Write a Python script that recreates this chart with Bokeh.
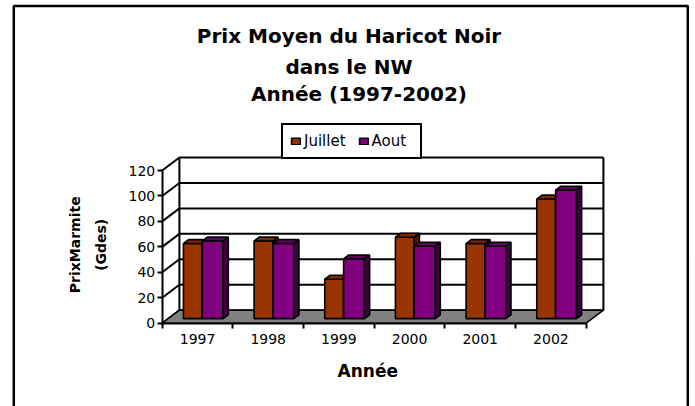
import numpy as np
from bokeh.plotting import figure
from bokeh.models import (Range1d, FixedTicker, LinearAxis, Label, BoxAnnotation,
                          Legend, LegendItem)
from bokeh.embed import file_html
from bokeh.resources import INLINE

# ---------------- data ----------------
years = ["1997", "1998", "1999", "2000", "2001", "2002"]
juillet = [59, 61, 31, 64, 59, 94]
aout = [61, 59, 47, 57, 57, 101]
y_ticks = [0, 20, 40, 60, 80, 100, 120]
series_names = ["Juillet", "Aout"]
title_lines = ["Prix Moyen du Haricot Noir", "dans le NW", "Année (1997-2002)"]
y_title_lines = ["PrixMarmite", "(Gdes)"]
x_title = "Année"

# ---------------- layout constants ----------------
W, H = 695, 406
AX_X = 161.7        # canvas px of the front y axis
AX_Y = 322.7        # canvas px of the front x axis
SX = 70.67          # px per category
SY = 1.2725         # px per price unit
n = len(years)
YMAX = y_ticks[-1]
DX = 17.2 / SX      # wall depth (x units)
DY = 13.0 / SY      # wall depth (y units)
F0, F1 = 0.35, 0.65 # bar depth position inside the wall depth
J_L, MID, A_R = 0.215, 0.482, 0.777

FONT = "DejaVu Sans"
J_COL = ("#993300", "#7a2900", "#4c1900")   # front, top, side
A_COL = ("#800080", "#620062", "#400040")


def px_x(cx):
    return (cx - AX_X) / SX


def px_y(cy):
    return (AX_Y - cy) / SY


p = figure(width=W, height=H, output_backend="svg", toolbar_location=None,
           x_range=Range1d(px_x(0), px_x(W)), y_range=Range1d(px_y(H), px_y(0)),
           min_border_left=0, min_border_right=0, min_border_top=0,
           min_border_bottom=0, x_axis_location=None, y_axis_location=None)
p.outline_line_color = None
p.background_fill_color = "white"
p.border_fill_color = "white"
p.grid.visible = False

# ---------------- axes ----------------
xaxis = LinearAxis(
    ticker=FixedTicker(ticks=[i + 0.5 for i in range(n)], minor_ticks=list(range(n + 1))),
    major_label_overrides={i + 0.5: y for i, y in enumerate(years)},
    bounds=(0, n), fixed_location=0)
xaxis.major_tick_in = 0
xaxis.major_tick_out = 0
xaxis.minor_tick_in = 0
xaxis.minor_tick_out = 5
xaxis.minor_tick_line_width = 2
xaxis.minor_tick_line_color = "black"
xaxis.major_label_standoff = 6
p.add_layout(xaxis, "below")

yaxis = LinearAxis(ticker=FixedTicker(ticks=y_ticks, minor_ticks=[]), bounds=(0, YMAX),
                   fixed_location=0)
yaxis.major_tick_in = 0
yaxis.major_tick_out = 5
yaxis.major_tick_line_width = 2
yaxis.major_label_standoff = 2
p.add_layout(yaxis, "left")

for ax in (xaxis, yaxis):
    ax.axis_line_width = 2
    ax.axis_line_color = "black"
    ax.major_tick_line_color = "black"
    ax.major_label_text_font = FONT
    ax.major_label_text_font_size = "14px"
    ax.major_label_text_color = "black"

# ---------------- walls & floor ----------------
p.segment(x0=[DX] * len(y_ticks), y0=[v + DY for v in y_ticks],
          x1=[n + DX] * len(y_ticks), y1=[v + DY for v in y_ticks],
          line_color="black", line_width=2)
p.segment(x0=[0] * len(y_ticks), y0=y_ticks,
          x1=[DX] * len(y_ticks), y1=[v + DY for v in y_ticks],
          line_color="black", line_width=2)
p.segment(x0=[DX, n + DX], y0=[DY, DY], x1=[DX, n + DX], y1=[YMAX + DY, YMAX + DY],
          line_color="black", line_width=2)
p.patch([0, n, n + DX, DX], [0, 0, DY, DY], fill_color="#808080",
        line_color="black", line_width=1.5)


# ---------------- bars ----------------
def faces(x0, x1, vals):
    fx, fy, tx, ty, sx, sy = [], [], [], [], [], []
    ddx, ddy = (F1 - F0) * DX, (F1 - F0) * DY
    for i, v in enumerate(vals):
        l, r = i + x0 + F0 * DX, i + x1 + F0 * DX
        b, t = F0 * DY, v + F0 * DY
        fx.append([l, r, r, l]); fy.append([b, b, t, t])
        tx.append([l, r, r + ddx, l + ddx]); ty.append([t, t, t + ddy, t + ddy])
        sx.append([r, r + ddx, r + ddx, r]); sy.append([b, b + ddy, t + ddy, t])
    return (fx, fy), (tx, ty), (sx, sy)


fronts = []
for (x0, x1, vals, cols) in [(J_L, MID, juillet, J_COL), (MID, A_R, aout, A_COL)]:
    fr, tp, sd = faces(x0, x1, vals)
    rf = p.patches(xs=fr[0], ys=fr[1], fill_color=cols[0], line_color="black", line_width=1.6)
    p.patches(xs=tp[0], ys=tp[1], fill_color=cols[1], line_color="black", line_width=1.6)
    p.patches(xs=sd[0], ys=sd[1], fill_color=cols[2], line_color="black", line_width=1.6)
    fronts.append(rf)

# ---------------- legend ----------------
legend = Legend(items=[LegendItem(label=series_names[0], renderers=[fronts[0]]),
                       LegendItem(label=series_names[1], renderers=[fronts[1]])],
                location=(281, H - 159), orientation="horizontal",
                glyph_width=11, glyph_height=8, label_standoff=3, spacing=12,
                padding=7, margin=0, label_height=18, label_width=41,
                label_text_font=FONT, label_text_font_size="15px",
                label_text_color="black",
                border_line_color="black", border_line_width=2, border_line_alpha=1,
                background_fill_color="white", background_fill_alpha=1)
p.add_layout(legend)

# ---------------- titles ----------------
for txt, cx, cy in zip(title_lines, [348.5, 348.5, 358.5], [35.3, 66.3, 93.3]):
    p.add_layout(Label(x=px_x(cx), y=px_y(cy), text=txt, text_font=FONT,
                       text_font_style="bold", text_font_size="20px", text_color="black",
                       text_align="center", text_baseline="middle"))

for txt, cx in zip(y_title_lines, [74, 100]):
    p.add_layout(Label(x=px_x(cx), y=px_y(244.3), text=txt, text_font=FONT,
                       text_font_style="bold", text_font_size="14px", text_color="black",
                       angle=np.pi / 2, text_align="center", text_baseline="middle"))

p.add_layout(Label(x=px_x(367.3), y=px_y(370), text=x_title, text_font=FONT,
                   text_font_style="bold", text_font_size="17px", text_color="black",
                   text_align="center", text_baseline="middle"))

# ---------------- outer border ----------------
p.add_layout(BoxAnnotation(left=px_x(13.3), right=px_x(687.3), top=px_y(5.5),
                           bottom=px_y(440), fill_color=None, fill_alpha=0,
                           line_color="black", line_alpha=1, line_width=2.5))

open("out.html", "w").write(file_html(p, INLINE))
